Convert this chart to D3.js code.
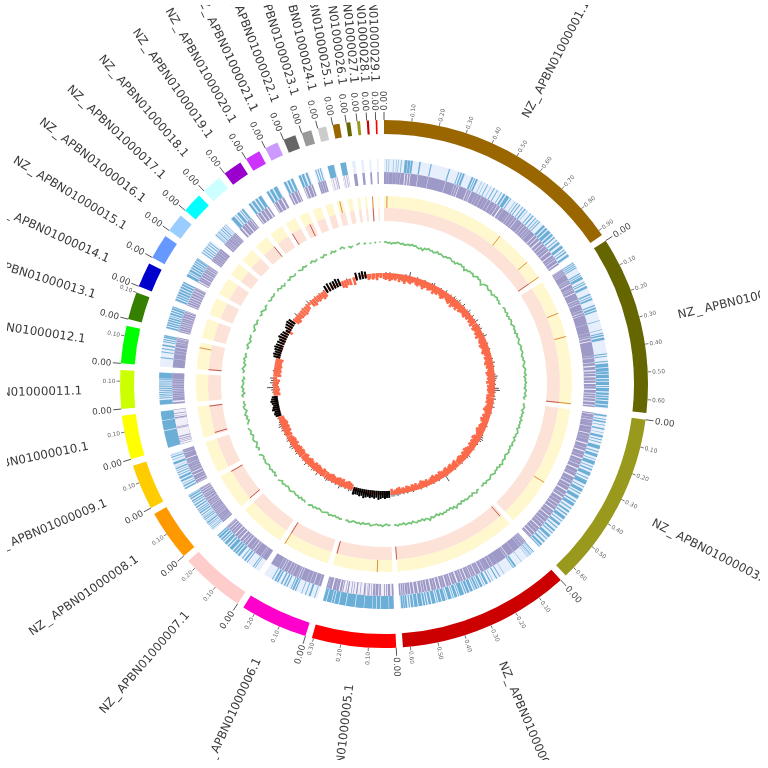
<!DOCTYPE html>
<html><head><meta charset="utf-8">
<script src="https://cdn.jsdelivr.net/npm/d3@7"></script>
<style>html,body{margin:0;padding:0;background:#fff}svg{display:block;filter:blur(0.35px)}</style></head>
<body><svg id="c" width="768" height="768"></svg>
<script>
const contigNames = d3.range(1,30).map(i=>"NZ_APBN010000"+String(i).padStart(2,"0")+".1");
const contigLengths = [.92,.648,.64,.627,.306,.246,.235,.185,.165,.16,.14,.137,.1,.09,.09,.068,.073,.073,.069,.055,.048,.045,.036,.031,.025,.015,.011,.008,.006];
const contigColors = ["#996600","#666600","#99991e","#cc0000","#ff0000","#ff00cc","#ffcccc","#ff9900","#ffcc00","#ffff00","#ccff00","#00ff00","#358000","#0000cc","#6699ff","#99ccff","#00ffff","#ccffff","#9900cc","#cc33ff","#cc99ff","#666666","#999999","#cccccc","#996600","#666600","#99991e","#cc0000","#ff0000"];
// genes on the outer strand, kb start,end pairs per contig
const forwardGenes = [
[10,12,20,22,39,41,52,54,60,62,72,75,88,100,102,112,114,122,150,156,198,203,278,283,320,324,330,336,340,348,380,388,392,396,400,408,425,427,438,440,452,456,470,472,484,488,500,504,520,523,532,540,545,560,566,570,590,592,600,604,612,616,628,632,640,646,654,656,672,676,684,690,700,704,712,716,722,726,745,755,760,770,775,790,795,805,812,818,828,832,840,850,860,872,880,884,890,896,905,915],
[2,6,10,14,18,22,26,30,55,60,64,68,72,84,95,99,104,108,116,126,152,158,164,168,172,180,203,208,214,222,226,232,271,274,311,313,325,329,333,340,345,356,414,418,424,428,445,450,456,472,475,490,492,500,503,518,522,530,534,548,552,556,560,575,580,590,594,600,604,612,616,630,634,644],
[3,10,20,24,30,36,45,48,60,66,78,80,90,100,108,112,120,124,135,150,160,164,172,185,195,198,205,220,228,232,240,246,255,270,280,284,292,310,320,324,332,345,352,356,365,380,390,396,402,416,425,430,440,448,456,462,470,484,492,496,505,516,525,530,540,548,555,560,570,582,590,594,604,612,620,630,634,638],
[4,8,12,14,20,24,28,30,36,38,70,72,100,108,112,116,160,162,180,184,195,200,215,217,225,230,240,250,255,258,265,275,280,284,288,296,300,304,310,322,326,336,340,345,350,368,372,376,380,392,396,400,405,420,425,428,432,446,450,462,466,470,475,490,495,505,510,516,520,528,532,548,552,566,570,580,585,590,596,604,606,612,614,622],
[2,22,24,58,61,75,78,92,94,128,130,165,168,205,208,235,238,255,258,266,269,288,291,304],
[10,13,30,38,50,54,68,71,95,100,104,112,116,120,135,140,146,152,160,166,178,184,188,196,204,208],
[22,25,30,34,62,66,72,80,88,92,105,115,120,128,132,140,145,160,165,172,178,190,195,200,204,212,216,225,228,233],
[8,11,16,18,24,26,30,33,38,44,48,50,56,60,64,68,72,74,80,84,90,96,100,104,108,112,118,124,130,136,142,146,150,156,162,168,172,178,180,183],
[2,8,14,20,26,28,36,44,50,60,66,70,76,80,86,88,94,100,106,108,116,126,136,138,146,150,156,158],
[2,74,77,118,120,158],
[2,22,28,32,36,40,44,48,52,56,60,64,68,72,76,80,84,88,92,96,100,104,108,111,113,138],
[36,40,60,64,74,78,88,94,104,108,112,117,122,127,128,134],
[3,10,14,20,24,30,34,40,44,50,54,58,62,70,74,80,84,92,94,99],
[2,10,14,20,24,30,34,42,46,54,58,66,70,78,82,88],
[0,12,16,20,24,34,38,44,48,56,60,64,68,74,78,84,86,89],
[4,8,14,18,24,28,34,38,46,50,56,60],
[6,10,14,16,22,26,30,32,38,42,48,52,58,60,66,68],
[4,20,26,30,36,48,54,58,62,70],
[2,12,18,30,36,46,52,66],
[0,10,16,28,34,50],
[4,14,20,30,36,46],
[0,10,14,24,32,40],
[6,10,16,20,26,30],
[0,27],[0,24],[],[],[],[]];
// extra inner-strand genes where the outer strand is nearly solid
const reverseExtra = {
4:[20,26,30,34,40,44,60,62,70,74,85,90,100,103,110,115,118,120,130,136,150,153,165,170,180,183,190,193,205,210,215,218,228,232,240,243,250,254,262,268,272,275,282,286,295,300],
9:[10,13,17,20,24,28,34,38,80,82,120,125,130,132,140,143],
10:[113,138],
23:[8,10,20,22],24:[6,8,16,18]};
const markerContig=[0,0,0,0,1,1,1,2,3,3,4,4,5,7,7,9,9,11,11,17,19,20,23,27];
const markerKb=[15,630,820,915,178,302,643,393,13,627,78,300,240,5,180,10,155,3,110,72,2,30,15,4];
const markerBand=["y","y","y","b","y","y","b","y","p","p","y","p","b","p","p","p","p","p","y","p","p","p","y","b"];
const skewBelow=[
[5,6,5,7,6,5,6,4,7,5,6,8,5,6,7,5,4,6,7,5,6,8,6,5,7,6,5,8,6,7,5,6,8,7,5,6,7,8,6,9,7,6,8,5,7,6,5,6,7,5,6,4,6,5,7],
[5,7,6,5,7,6,8,5,6,7,6,8,7,6,7,8,6,5,7,6,7,8,6,7,5,6,8,7,6,7,6,8,5,7,6,7,6,5,7],
[7,6,7,5,6,7,8,6,5,7,6,8,7,5,6,7,6,8,7,6,5,7,8,6,7,6,7,5,6,7,8,6,7,5,6,7,6,5],
[7,6,5,7,6,5,7,6,5,6,7,5,6,5,7,6,5,4,6,5,6,7,5,4,6,5,6,4,5,6,4,5,4,6,5,4,3,5],
[1,2,1,1,2,1,1,2,3,2,1,2,2,1,1,2,2,1],
[5,6,7,6,5,7,6,7,6,5,6,7,6,5,6],
[6,7,5,6,7,6,7,5,6,7,6,5,7,6],
[6,7,6,7,6,5,7,6,7,6,5],
[6,5,7,6,7,6,7,6,5,5],
[1,1,2,1,1,2,1,1,2,1],
[6,5,6,5,4,5,6,3],
[7,6,7,6,7,6,6,7],
[3,2,1,2,3,1],[2,3,1,2,1],[6,3,2,1,2],[6,7,5,6],[6,7,6,5],[2,6,7,5],[6,5,7,6],[1,2,1],[2,1,2],[6,7,5],[6,7],[2,1],[1,2],[5,4],[5,4],[6,3],[4,3]];
const skewAbove=[
[2,3,2,3,2,2,1,2,1,2,1,3,2,6,2,1,2,3,2,1,2,3,2,2,1,3,4,2,2,1,3,2,1,4,2,2,3,2,4,3,3,5,3,2,5,3,2,3,5,3,2,4,2,3,5],
[2,4,3,4,2,1,3,5,2,1,2,3,1,2,3,2,1,1,2,3,2,4,2,3,2,1,2,3,5,4,3,2,3,1,6,7,3,2,3],
[4,2,3,2,4,2,1,3,2,1,2,1,2,1,3,1,2,1,1,3,4,5,4,2,3,2,1,3,2,1,2,4,3,2,1,2,3,2],
[2,1,3,2,1,2,1,3,8,2,1,2,3,1,2,3,2,1,2,3,1,2,3,2,1,2,3,2,1,3,2,3,2,3,4,3,4,4],
[4,4,5,4,5,6,4,5,4,5,4,5,6,4,5,4,4,5],
[3,4,2,3,2,3,5,2,3,2,3,2,3,4,3],
[2,3,2,5,2,3,4,2,3,2,5,2,3,2],
[3,2,4,3,2,4,5,3,2,4,3],
[2,3,2,4,3,5,4,3,2,3],
[3,4,3,5,4,3,4,5,4,3],
[2,3,4,8,3,5,4,5],
[2,2,3,2,2,1,2,1],
[4,5,4,5,6,5],[5,4,6,5,4],[2,4,5,6,5],[3,2,5,2],[2,3,2,3],[5,3,2,3],[2,3,2,3],[5,6,5],[5,6,5],[2,2,3],[2,1],[5,4],[5,4],[1,1],[1,2],[1,1],[1,1]];
const blackContigs=[4,9,12,13,14,19,20,23,24];
const gcValues=[
[37,38,36,37,35,37,36,38,37,36,37,35,36,37,36,38,36,37,35,34,36,33,37,36,38,36,37,35,36,38,36,37,36,35,37,36,38,37,35,36,34,37,36,38,36,37,33,36,35,37,36,37,34,36,38,36,37,35,32,36,37,38,36,35,37,36,34,37,36,38,36,37,35,36],
[36,38,37,36,38,35,37,36,38,37,35,37,38,36,37,35,38,36,37,38,36,35,37,38,36,37,38,36,35,37,36,38,37,35,36,38,37,36,38,35,37,36,38,36,37,35,38,37,36,38,35,37],
[37,36,38,37,35,38,36,37,35,38,36,37,36,38,35,37,38,36,37,35,38,37,36,38,35,37,36,38,37,35,36,38,36,37,39,36,38,35,37,36,38,37,35,36,38,37,36,38,35,37,36],
[37,36,39,37,35,38,36,37,38,36,37,35,38,36,37,40,36,38,35,37,36,38,37,39,36,38,35,37,38,36,40,37,36,38,35,37,36,38,37,35,38,36,37,38,35,37,36,38,37,36],
[36,37,35,36,38,36,37,35,36,37,38,35,36,37,35,38,36,37,36,35,37,38,36,37],
[36,38,36,37,35,37,36,38,35,36,37,38,36,35,37,36,38,36,37,39],
[38,36,37,35,38,36,37,36,35,37,38,36,35,37,36,38,35,37,39],
[36,38,35,37,36,38,36,35,37,38,36,37,35,36,40],
[37,35,38,36,34,37,38,36,35,38,36,37,39],
[38,36,34,37,35,38,36,34,37,38,35,37,36],
[36,38,34,37,35,38,36,35,37,34,36],
[37,35,38,36,34,37,36,38,35,37,36],
[37,35,38,36,34,37,36,38],[36,34,37,38,35,37,36],[37,35,38,36,34,37,36],[38,35,37,36,38],[36,38,35,37,34,37],[37,35,38,36,35,37],[38,36,35,38,36,37],[36,38,35,37],[37,35,38,36],[35,38,36,37],[37,39,36],[38,35,37],[37,39],[36,38],[37,36],[38,36],[37,38]];
const tickStep=0.1;

const cx=384,cy=384,degPerMb=60.5;
const gap=(360-d3.sum(contigLengths)*degPerMb)/contigLengths.length;
const rad=d=>d*Math.PI/180;
const ends=d3.cumsum(contigLengths);
const scales=contigLengths.map((L,i)=>{
  const s=(ends[i]-L)*degPerMb+i*gap;
  return d3.scaleLinear().domain([0,L]).range([s,s+L*degPerMb]);
});
const svg=d3.select("#c");
svg.append("defs").append("clipPath").attr("id","frame").append("rect").attr("x",7).attr("y",5).attr("width",753).attr("height",755);
const root=svg.append("g").attr("clip-path","url(#frame)");
const g=root.append("g").attr("transform",`translate(${cx},${cy})`);
const arc=d3.arc();
const band=(sel,i,a,b,r0,r1,fill)=>sel.append("path").attr("fill",fill).attr("d",arc({innerRadius:r0,outerRadius:r1,startAngle:rad(scales[i](a)),endAngle:rad(scales[i](b))}));
const pt=(deg,r)=>[r*Math.sin(rad(deg)),-r*Math.cos(rad(deg))];

const COL={pale:"#e7eefc",blue:"#6baed6",purple:"#9e9ac8",lilac:"#f1eff8",yellow:"#fff8cf",pink:"#fde2d7"};
const kb=v=>v/1000;
contigLengths.forEach((L,i)=>{
  band(g,i,0,L,250,264,contigColors[i]);
  band(g,i,0,L,212,225,COL.pale);
  band(g,i,0,L,200,212,COL.purple);
  band(g,i,0,L,176,188,COL.yellow);
  band(g,i,0,L,163,176,COL.pink);
  const f=forwardGenes[i];
  for(let k=0;k<f.length;k+=2){
    const a=kb(f[k]),b=Math.min(L,kb(f[k+1])),w=b-a,inset=w<0.02?w*0.32:0;
    band(g,i,a,b,212,225,COL.blue);
    band(g,i,a+inset,b-inset,200,212,COL.lilac);
  }
  const x=reverseExtra[i]||[];
  for(let k=0;k<x.length;k+=2) band(g,i,kb(x[k]),Math.min(L,kb(x[k+1])),200,212,COL.purple);
});

// markers
markerContig.forEach((c,j)=>{
  const a=scales[c](kb(markerKb[j])),m=markerBand[j];
  const seg=(r0,r1,col)=>{const p=pt(a,r0),q=pt(a,r1);g.append("line").attr("x1",p[0]).attr("y1",p[1]).attr("x2",q[0]).attr("y2",q[1]).attr("stroke",col).attr("stroke-width",0.9);};
  if(m==="y"||m==="b") seg(176,188,"#d9822b");
  if(m==="p"||m==="b") seg(163,176,"#c0453a");
});

// GC line
const gcR=d3.scaleLinear().domain([36,46]).range([141,148]);
gcValues.forEach((vals,i)=>{
  const L=contigLengths[i];
  const x=d3.scaleLinear().domain([0,vals.length-1]).range([scales[i](0),scales[i](L)]);
  const line=d3.lineRadial().angle((d,k)=>rad(x(k))).radius(d=>gcR(d));
  g.append("path").attr("d",line(vals)).attr("fill","none").attr("stroke","#74c476").attr("stroke-width",1.7);
});

// skew bars
const skewR=d3.scaleLinear().domain([-8,8]).range([102,118]);
const radial=(deg,r0,r1,color,w)=>{
  const p=pt(deg,r0),q=pt(deg,r1);
  g.append("line").attr("x1",p[0]).attr("y1",p[1]).attr("x2",q[0]).attr("y2",q[1]).attr("stroke",color).attr("stroke-width",w);
};
contigLengths.forEach((L,i)=>{
  const solid=blackContigs.includes(i);
  const above=skewAbove[i],below=skewBelow[i];
  const xA=d3.scaleLinear().domain([0,above.length-1]).range([scales[i](0),scales[i](L)]);
  const xB=d3.scaleLinear().domain([0,below.length-1]).range([scales[i](0),scales[i](L)]);
  above.forEach((v,k)=>{ if(!solid&&v>=3) radial(xA(k),skewR(0),skewR(v-1),"#000",0.7); });
  below.forEach((v,k)=>radial(xB(k),skewR(1),skewR(-v),"#fb6a4a",2.6));
  if(solid) above.forEach((v,k)=>radial(xA(k),skewR(-3),skewR(v),"#000",2));
});

// ticks
const textAt=(deg,r,txt,size,fill)=>{
  const flip=deg>180;
  const p=pt(deg,r);
  return g.append("text").attr("transform",`translate(${p[0]},${p[1]}) rotate(${flip?deg-270:deg-90})`)
   .attr("text-anchor",flip?"end":"start").attr("dominant-baseline","central")
   .attr("font-family","DejaVu Sans").attr("font-size",size).attr("fill",fill).text(txt);
};
contigLengths.forEach((L,i)=>{
  d3.range(0,L+1e-9,tickStep).forEach(v=>{
    const major=v===0,deg=scales[i](v);
    const p=pt(deg,264),q=pt(deg,major?272:267.5);
    g.append("line").attr("x1",p[0]).attr("y1",p[1]).attr("x2",q[0]).attr("y2",q[1]).attr("stroke","#555").attr("stroke-width",major?1:0.8);
    textAt(deg,major?273.5:268.5,d3.format(".2f")(v),major?8.8:5.8,major?"#444":"#666");
  });
  const t=textAt(scales[i](L/2),302,"",11.8,"#3a3a3a");
  const nm=contigNames[i];
  t.append("tspan").text(nm.slice(0,2));
  t.append("tspan").attr("dx",1.5).text("_");
  t.append("tspan").attr("dx",3).text(nm.slice(3));
});
</script></body></html>
